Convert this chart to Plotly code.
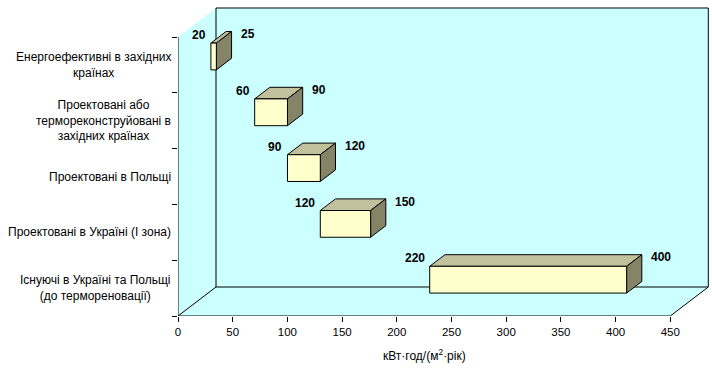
import plotly.graph_objects as go

# ---------------- data ----------------
categories = [
    "Енергоефективні в західних<br>країнах",
    "Проектовані або<br>термореконструйовані в<br>західних країнах",
    "Проектовані в Польщі",
    "Проектовані в Україні (І зона)",
    "Існуючі в Україні та Польщі<br>(до термореновації)",
]
bar_start = [20, 60, 90, 120, 220]
bar_end = [25, 90, 120, 166, 400]
label_low = ["20", "60", "90", "120", "220"]
label_high = ["25", "90", "120", "150", "400"]
x_ticks = [0, 50, 100, 150, 200, 250, 300, 350, 400, 450]
x_title = "кВт·год/(м<sup>2</sup>·рік)"

# ---------------- styling / geometry ----------------
W, H = 712, 373
ML, MR, MT, MB = 178, 2, 6, 57
PX_PER_X = 1.094
N = len(categories)
PX_PER_CAT = (H - MB - 37) / N
X_MAX = max(x_ticks)
x_range = [0, (W - ML - MR) / PX_PER_X]
y_range = [0, (H - MB - MT) / PX_PER_CAT]

DEPTH_DX = 38 / PX_PER_X      # oblique depth offset in x data units
DEPTH_DY = 29 / PX_PER_CAT    # oblique depth offset in y data units
D0, D1 = 0.29, 0.69           # bar front/back depth fraction
BAR_H = 0.48                  # bar height as fraction of category band

WALL = "#CCFFFF"
FRONT = "#FFFFCC"
TOP = "#C2C19E"
SIDE = "#858466"
FONT = "Liberation Sans, Arial, sans-serif"


def path(pts):
    return "M " + " L ".join(f"{x},{y}" for x, y in pts) + " Z"


shapes = []
dx, dy = DEPTH_DX, DEPTH_DY
# walls
shapes.append(dict(type="path", xref="x", yref="y", layer="below",
                   path=path([(0, 0), (0, N), (dx, N + dy), (dx, dy)]),
                   fillcolor=WALL, line=dict(width=0)))
shapes.append(dict(type="path", xref="x", yref="y", layer="below",
                   path=path([(0, 0), (X_MAX, 0), (X_MAX + dx, dy), (dx, dy)]),
                   fillcolor=WALL, line=dict(width=0)))
shapes.append(dict(type="rect", xref="x", yref="y", layer="below",
                   x0=dx, x1=X_MAX + dx, y0=dy, y1=N + dy,
                   fillcolor=WALL, line=dict(color="black", width=1)))
# floor diagonals
shapes.append(dict(type="line", xref="x", yref="y", x0=0, y0=0, x1=dx, y1=dy,
                   line=dict(color="black", width=1)))
shapes.append(dict(type="line", xref="x", yref="y", x0=X_MAX, y0=0, x1=X_MAX + dx, y1=dy,
                   line=dict(color="black", width=1)))
# axis lines
shapes.append(dict(type="line", xref="x", yref="y", x0=0, y0=0, x1=X_MAX, y1=0,
                   line=dict(color="black", width=1)))
shapes.append(dict(type="line", xref="x", yref="y", x0=0, y0=0, x1=0, y1=N,
                   line=dict(color="black", width=1)))

annotations = []
for i, (cat, s, e, lo, hi) in enumerate(zip(categories, bar_start, bar_end, label_low, label_high)):
    k = N - 1 - i
    c = k + 0.5
    fx0 = s + D0 * dx
    fx1 = e + D0 * dx
    fy0 = c - BAR_H / 2 + D0 * dy
    fy1 = c + BAR_H / 2 + D0 * dy
    ddx = (D1 - D0) * dx
    ddy = (D1 - D0) * dy
    shapes.append(dict(type="path", xref="x", yref="y",
                       path=path([(fx0, fy1), (fx1, fy1), (fx1 + ddx, fy1 + ddy), (fx0 + ddx, fy1 + ddy)]),
                       fillcolor=TOP, line=dict(color="black", width=1)))
    shapes.append(dict(type="path", xref="x", yref="y",
                       path=path([(fx1, fy0), (fx1 + ddx, fy0 + ddy), (fx1 + ddx, fy1 + ddy), (fx1, fy1)]),
                       fillcolor=SIDE, line=dict(color="black", width=1)))
    shapes.append(dict(type="path", xref="x", yref="y",
                       path=path([(fx0, fy0), (fx1, fy0), (fx1, fy1), (fx0, fy1)]),
                       fillcolor=FRONT, line=dict(color="black", width=1)))
    annotations.append(dict(x=fx0, y=fy1, xref="x", yref="y", text=lo, showarrow=False,
                            xanchor="right", yanchor="middle", xshift=-3, yshift=8,
                            font=dict(family=FONT, size=12, color="black", weight="bold")))
    annotations.append(dict(x=fx1 + ddx, y=fy1, xref="x", yref="y", text=hi, showarrow=False,
                            xanchor="left", yanchor="middle", xshift=7, yshift=9,
                            font=dict(family=FONT, size=12, color="black", weight="bold")))
    annotations.append(dict(x=0, y=c, xref="x", yref="y", text=cat, showarrow=False,
                            xanchor="right", yanchor="middle", xshift=-5, align="center",
                            font=dict(family=FONT, size=12, color="black")))

annotations.append(dict(x=X_MAX / 2, y=0, xref="x", yref="y", text=x_title, showarrow=False,
                        xanchor="center", yanchor="middle", yshift=-39,
                        font=dict(family=FONT, size=12, color="black")))

fig = go.Figure()
fig.add_trace(go.Scatter(x=[0], y=[0], mode="markers", marker=dict(opacity=0),
                         hoverinfo="skip", showlegend=False))
fig.update_layout(
    width=W, height=H,
    margin=dict(l=ML, r=MR, t=MT, b=MB, pad=0),
    paper_bgcolor="white", plot_bgcolor="white",
    showlegend=False,
    shapes=shapes, annotations=annotations,
    font=dict(family=FONT, size=12, color="black"),
    xaxis=dict(range=x_range, tickvals=x_ticks, ticktext=[str(v) for v in x_ticks],
               ticks="outside", ticklen=5, tickcolor="black", showgrid=False,
               zeroline=False, showline=False, fixedrange=True,
               tickfont=dict(family=FONT, size=11.5, color="black")),
    yaxis=dict(range=y_range, tickvals=list(range(N + 1)), showticklabels=False,
               ticks="outside", ticklen=5, tickcolor="black", showgrid=False,
               zeroline=False, showline=False, fixedrange=True),
)
fig.write_html("out.html", config={"displayModeBar": False},
               post_script="document.body.style.margin='0';document.body.style.overflow='hidden';")
